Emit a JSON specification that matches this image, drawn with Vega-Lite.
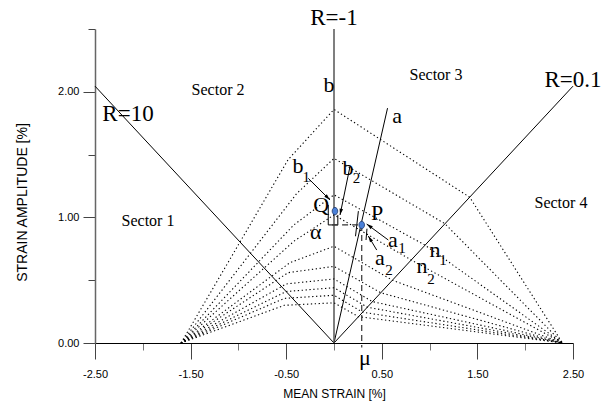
{
  "$schema": "https://vega.github.io/schema/vega-lite/v6.json",
  "width": 478,
  "height": 314,
  "autosize": {"type": "none"},
  "padding": {"left": 95, "top": 29, "right": 33, "bottom": 62},
  "background": "white",
  "config": {
    "view": {"stroke": null},
    "axis": {"grid": false}
  },
  "datasets": {
    "lines": [
      {"id": "R10", "kind": "solid", "ord": 1, "x": 0, "y": 0},
      {"id": "R10", "kind": "solid", "ord": 2, "x": -2.5, "y": 2.045},
      {"id": "R01", "kind": "solid", "ord": 1, "x": 0, "y": 0},
      {"id": "R01", "kind": "solid", "ord": 2, "x": 2.5, "y": 2.045},
      {"id": "la", "kind": "solid", "ord": 1, "x": 0, "y": 0},
      {"id": "la", "kind": "solid", "ord": 2, "x": 0.56, "y": 1.87},
      {"id": "Rm1", "kind": "grey", "ord": 1, "x": 0, "y": 0},
      {"id": "Rm1", "kind": "grey", "ord": 2, "x": 0, "y": 2.5},
      {"id": "m1", "kind": "solid", "ord": 1, "x": 0.255, "y": 1.05},
      {"id": "m1", "kind": "solid", "ord": 2, "x": 0.225, "y": 0.85},
      {"id": "m2", "kind": "solid", "ord": 1, "x": 0.345, "y": 0.91},
      {"id": "m2", "kind": "solid", "ord": 2, "x": 0.335, "y": 0.82},
      {"id": "qb", "kind": "solid", "ord": 1, "x": -0.06, "y": 1.1},
      {"id": "qb", "kind": "solid", "ord": 2, "x": -0.06, "y": 0.94},
      {"id": "qb", "kind": "solid", "ord": 3, "x": 0.04, "y": 0.94},
      {"id": "qb", "kind": "solid", "ord": 4, "x": 0.04, "y": 1.02},
      {"id": "ab1", "kind": "solid", "ord": 1, "x": -0.269, "y": 1.311},
      {"id": "ab1", "kind": "solid", "ord": 2, "x": -0.042, "y": 1.139},
      {"id": "ab2", "kind": "solid", "ord": 1, "x": 0.167, "y": 1.404},
      {"id": "ab2", "kind": "solid", "ord": 2, "x": 0.063, "y": 1.019},
      {"id": "aa1", "kind": "solid", "ord": 1, "x": 0.568, "y": 0.82},
      {"id": "aa1", "kind": "solid", "ord": 2, "x": 0.342, "y": 0.947},
      {"id": "aa2", "kind": "solid", "ord": 1, "x": 0.447, "y": 0.74},
      {"id": "aa2", "kind": "solid", "ord": 2, "x": 0.359, "y": 0.852},
      {"id": "dh", "kind": "dashed", "ord": 1, "x": -0.02, "y": 0.94},
      {"id": "dh", "kind": "dashed", "ord": 2, "x": 0.29, "y": 0.94},
      {"id": "dv", "kind": "dashed", "ord": 1, "x": 0.29, "y": 0.94},
      {"id": "dv", "kind": "dashed", "ord": 2, "x": 0.29, "y": -0.035},
      {"id": "L1", "kind": "dotted", "ord": 1, "x": -1.6, "y": 0},
      {"id": "L1", "kind": "dotted", "ord": 2, "x": -0.48, "y": 1.46},
      {"id": "L1", "kind": "dotted", "ord": 3, "x": 0, "y": 1.86},
      {"id": "L1", "kind": "dotted", "ord": 4, "x": 1.42, "y": 1.16},
      {"id": "L1", "kind": "dotted", "ord": 5, "x": 2.39, "y": 0},
      {"id": "L2", "kind": "dotted", "ord": 1, "x": -1.6, "y": 0},
      {"id": "L2", "kind": "dotted", "ord": 2, "x": -0.39, "y": 1.19},
      {"id": "L2", "kind": "dotted", "ord": 3, "x": 0, "y": 1.47},
      {"id": "L2", "kind": "dotted", "ord": 4, "x": 1.16, "y": 0.95},
      {"id": "L2", "kind": "dotted", "ord": 5, "x": 2.39, "y": 0},
      {"id": "L3", "kind": "dotted", "ord": 1, "x": -1.6, "y": 0},
      {"id": "L3", "kind": "dotted", "ord": 2, "x": -0.42, "y": 0.94},
      {"id": "L3", "kind": "dotted", "ord": 3, "x": 0, "y": 1.18},
      {"id": "L3", "kind": "dotted", "ord": 4, "x": 0.95, "y": 0.78},
      {"id": "L3", "kind": "dotted", "ord": 5, "x": 2.39, "y": 0},
      {"id": "L4", "kind": "dotted", "ord": 1, "x": -1.6, "y": 0},
      {"id": "L4", "kind": "dotted", "ord": 2, "x": -0.42, "y": 0.81},
      {"id": "L4", "kind": "dotted", "ord": 3, "x": 0, "y": 1.02},
      {"id": "L4", "kind": "dotted", "ord": 4, "x": 0.81, "y": 0.66},
      {"id": "L4", "kind": "dotted", "ord": 5, "x": 2.39, "y": 0},
      {"id": "L5", "kind": "dotted", "ord": 1, "x": -1.6, "y": 0},
      {"id": "L5", "kind": "dotted", "ord": 2, "x": -0.46, "y": 0.64},
      {"id": "L5", "kind": "dotted", "ord": 3, "x": 0, "y": 0.77},
      {"id": "L5", "kind": "dotted", "ord": 4, "x": 0.61, "y": 0.5},
      {"id": "L5", "kind": "dotted", "ord": 5, "x": 2.39, "y": 0},
      {"id": "L6", "kind": "dotted", "ord": 1, "x": -1.6, "y": 0},
      {"id": "L6", "kind": "dotted", "ord": 2, "x": -0.48, "y": 0.56},
      {"id": "L6", "kind": "dotted", "ord": 3, "x": 0, "y": 0.61},
      {"id": "L6", "kind": "dotted", "ord": 4, "x": 0.49, "y": 0.4},
      {"id": "L6", "kind": "dotted", "ord": 5, "x": 2.39, "y": 0},
      {"id": "L7", "kind": "dotted", "ord": 1, "x": -1.6, "y": 0},
      {"id": "L7", "kind": "dotted", "ord": 2, "x": -0.5, "y": 0.47},
      {"id": "L7", "kind": "dotted", "ord": 3, "x": 0, "y": 0.51},
      {"id": "L7", "kind": "dotted", "ord": 4, "x": 0.4, "y": 0.33},
      {"id": "L7", "kind": "dotted", "ord": 5, "x": 2.39, "y": 0},
      {"id": "L8", "kind": "dotted", "ord": 1, "x": -1.6, "y": 0},
      {"id": "L8", "kind": "dotted", "ord": 2, "x": -0.5, "y": 0.41},
      {"id": "L8", "kind": "dotted", "ord": 3, "x": 0, "y": 0.44},
      {"id": "L8", "kind": "dotted", "ord": 4, "x": 0.35, "y": 0.285},
      {"id": "L8", "kind": "dotted", "ord": 5, "x": 2.39, "y": 0},
      {"id": "L9", "kind": "dotted", "ord": 1, "x": -1.6, "y": 0},
      {"id": "L9", "kind": "dotted", "ord": 2, "x": -0.52, "y": 0.355},
      {"id": "L9", "kind": "dotted", "ord": 3, "x": 0, "y": 0.38},
      {"id": "L9", "kind": "dotted", "ord": 4, "x": 0.3, "y": 0.245},
      {"id": "L9", "kind": "dotted", "ord": 5, "x": 2.39, "y": 0},
      {"id": "L10", "kind": "dotted", "ord": 1, "x": -1.6, "y": 0},
      {"id": "L10", "kind": "dotted", "ord": 2, "x": -0.52, "y": 0.3},
      {"id": "L10", "kind": "dotted", "ord": 3, "x": 0, "y": 0.32},
      {"id": "L10", "kind": "dotted", "ord": 4, "x": 0.255, "y": 0.21},
      {"id": "L10", "kind": "dotted", "ord": 5, "x": 2.39, "y": 0}
    ],
    "heads": [
      {"id": "b1", "x": -0.042, "y": 1.139, "dir": 135},
      {"id": "b2", "x": 0.063, "y": 1.019, "dir": 192},
      {"id": "a1", "x": 0.342, "y": 0.947, "dir": 306},
      {"id": "a2", "x": 0.359, "y": 0.852, "dir": 329}
    ],
    "points": [
      {"name": "Q", "x": 0.01, "y": 1.05},
      {"name": "P", "x": 0.29, "y": 0.94}
    ],
    "labels": [
      {"kind": "R", "text": "R=-1", "x": 0, "y": 2.53},
      {"kind": "R", "text": "R=10", "x": -2.155, "y": 1.767},
      {"kind": "R", "text": "R=0.1", "x": 2.5, "y": 2.04},
      {"kind": "sector", "text": "Sector 1", "x": -1.946, "y": 0.93},
      {"kind": "sector", "text": "Sector 2", "x": -1.213, "y": 1.975},
      {"kind": "sector", "text": "Sector 3", "x": 1.067, "y": 2.094},
      {"kind": "sector", "text": "Sector 4", "x": 2.374, "y": 1.075},
      {"kind": "big", "text": "b", "x": -0.052, "y": 2.0},
      {"kind": "big", "text": "a", "x": 0.659, "y": 1.75},
      {"kind": "big", "text": "Q", "x": -0.135, "y": 1.04},
      {"kind": "big", "text": "α", "x": -0.19, "y": 0.83},
      {"kind": "big", "text": "P", "x": 0.45, "y": 0.98},
      {"kind": "big", "text": "μ", "x": 0.324, "y": -0.175},
      {"kind": "big", "text": "b", "x": -0.377, "y": 1.353},
      {"kind": "big", "text": "b", "x": 0.146, "y": 1.338},
      {"kind": "big", "text": "a", "x": 0.617, "y": 0.764},
      {"kind": "big", "text": "a", "x": 0.481, "y": 0.621},
      {"kind": "big", "text": "n", "x": 1.056, "y": 0.685},
      {"kind": "big", "text": "n", "x": 0.921, "y": 0.557},
      {"kind": "sub", "text": "1", "x": -0.29, "y": 1.28},
      {"kind": "sub", "text": "2", "x": 0.236, "y": 1.274},
      {"kind": "sub", "text": "1", "x": 0.711, "y": 0.717},
      {"kind": "sub", "text": "2", "x": 0.575, "y": 0.541},
      {"kind": "sub", "text": "1", "x": 1.14, "y": 0.621},
      {"kind": "sub", "text": "2", "x": 1.015, "y": 0.47}
    ]
  },
  "layer": [
    {
      "data": {"name": "lines"},
      "transform": [{"filter": "datum.kind == 'solid'"}],
      "mark": {"type": "line", "color": "black", "strokeWidth": 1},
      "encoding": {
        "x": {
          "field": "x", "type": "quantitative",
          "scale": {"domain": [-2.5, 2.5], "nice": false, "zero": false},
          "axis": {
            "title": "MEAN STRAIN [%]",
            "values": [-2.5, -2, -1.5, -1, -0.5, 0, 0.5, 1, 1.5, 2, 2.5],
            "labelExpr": "abs((datum.value*2) % 2) == 1 ? replace(format(datum.value, '.2f'), '\u2212', '-') : ''",
            "tickSize": {"condition": {"test": "abs((datum.value*2) % 2) == 1", "value": 16}, "value": 7},
            "tickColor": {"condition": {"test": "abs((datum.value*2) % 2) == 1", "value": "#444"}, "value": "#777"},
            "tickWidth": 1,
            "domainColor": "black",
            "domainWidth": 1,
            "labelFont": "Liberation Sans, Arial, sans-serif",
            "labelFontSize": 11,
            "labelColor": "black",
            "labelPadding": 9,
            "labelBaseline": "top",
            "labelFlush": false,
            "labelOverlap": false,
            "titleFont": "Liberation Sans, Arial, sans-serif",
            "titleFontSize": 12,
            "titleFontWeight": "normal",
            "titleColor": "black",
            "titleX": 239,
            "titleY": 50,
            "titleAlign": "center",
            "titleBaseline": "middle"
          }
        },
        "y": {
          "field": "y", "type": "quantitative",
          "scale": {"domain": [0, 2.5], "nice": false, "zero": false},
          "axis": {
            "title": "STRAIN AMPLITUDE [%]",
            "values": [0, 0.5, 1, 1.5, 2, 2.5],
            "labelExpr": "datum.value == 0 || datum.value == 1 || datum.value == 2 ? format(datum.value, '.2f') : ''",
            "tickSize": {"condition": {"test": "datum.value == 0 || datum.value == 1 || datum.value == 2", "value": 12}, "value": 7},
            "tickColor": "#444",
            "domainColor": "#666",
            "domainWidth": 1.5,
            "labelFont": "Liberation Sans, Arial, sans-serif",
            "labelFontSize": 11,
            "labelColor": "black",
            "labelPadding": 4,
            "labelOverlap": false,
            "labelFlush": false,
            "titleFont": "Liberation Sans, Arial, sans-serif",
            "titleFontSize": 14,
            "titleFontWeight": "normal",
            "titleColor": "black",
            "titleAngle": -90,
            "titleX": -73,
            "titleY": 173,
            "titleAlign": "center",
            "titleBaseline": "middle"
          }
        },
        "detail": {"field": "id"},
        "order": {"field": "ord"}
      }
    },
    {
      "data": {"name": "lines"},
      "transform": [{"filter": "datum.kind == 'grey'"}],
      "mark": {"type": "line", "color": "#555", "strokeWidth": 1.5},
      "encoding": {
        "x": {"field": "x", "type": "quantitative"},
        "y": {"field": "y", "type": "quantitative"},
        "detail": {"field": "id"},
        "order": {"field": "ord"}
      }
    },
    {
      "data": {"name": "lines"},
      "transform": [{"filter": "datum.kind == 'dotted'"}],
      "mark": {"type": "line", "color": "black", "strokeWidth": 1.1, "strokeDash": [1.3, 2.6]},
      "encoding": {
        "x": {"field": "x", "type": "quantitative"},
        "y": {"field": "y", "type": "quantitative"},
        "detail": {"field": "id"},
        "order": {"field": "ord"}
      }
    },
    {
      "data": {"name": "lines"},
      "transform": [{"filter": "datum.kind == 'dashed'"}],
      "mark": {"type": "line", "color": "#333", "strokeWidth": 1.2, "strokeDash": [6, 4]},
      "encoding": {
        "x": {"field": "x", "type": "quantitative"},
        "y": {"field": "y", "type": "quantitative"},
        "detail": {"field": "id"},
        "order": {"field": "ord"}
      }
    },
    {
      "data": {"name": "heads"},
      "mark": {"type": "point", "shape": "M0,0L-0.4,1.4L0.4,1.4Z", "filled": true, "color": "black", "size": 80, "opacity": 1},
      "encoding": {
        "x": {"field": "x", "type": "quantitative"},
        "y": {"field": "y", "type": "quantitative"},
        "angle": {"field": "dir", "type": "quantitative", "scale": {"domain": [0, 360], "range": [0, 360]}}
      }
    },
    {
      "data": {"name": "points"},
      "mark": {"type": "point", "shape": "M-0.75,0A0.75,1 0 1,0 0.75,0A0.75,1 0 1,0 -0.75,0Z", "filled": true, "fill": "#4a80d8", "stroke": "#1c3366", "strokeWidth": 0.8, "size": 55, "opacity": 1},
      "encoding": {
        "x": {"field": "x", "type": "quantitative"},
        "y": {"field": "y", "type": "quantitative"}
      }
    },
    {
      "data": {"name": "labels"},
      "transform": [{"filter": "datum.kind == 'R'"}],
      "mark": {"type": "text", "font": "Liberation Serif", "fontSize": 23, "align": "center", "baseline": "alphabetic", "color": "black"},
      "encoding": {
        "x": {"field": "x", "type": "quantitative"},
        "y": {"field": "y", "type": "quantitative"},
        "text": {"field": "text"}
      }
    },
    {
      "data": {"name": "labels"},
      "transform": [{"filter": "datum.kind == 'sector'"}],
      "mark": {"type": "text", "font": "Liberation Serif", "fontSize": 16, "align": "center", "baseline": "alphabetic", "color": "black"},
      "encoding": {
        "x": {"field": "x", "type": "quantitative"},
        "y": {"field": "y", "type": "quantitative"},
        "text": {"field": "text"}
      }
    },
    {
      "data": {"name": "labels"},
      "transform": [{"filter": "datum.kind == 'big'"}],
      "mark": {"type": "text", "font": "Liberation Serif", "fontSize": 22, "align": "center", "baseline": "alphabetic", "color": "black"},
      "encoding": {
        "x": {"field": "x", "type": "quantitative"},
        "y": {"field": "y", "type": "quantitative"},
        "text": {"field": "text"}
      }
    },
    {
      "data": {"name": "labels"},
      "transform": [{"filter": "datum.kind == 'sub'"}],
      "mark": {"type": "text", "font": "Liberation Serif", "fontSize": 15, "align": "center", "baseline": "alphabetic", "color": "black"},
      "encoding": {
        "x": {"field": "x", "type": "quantitative"},
        "y": {"field": "y", "type": "quantitative"},
        "text": {"field": "text"}
      }
    }
  ]
}
